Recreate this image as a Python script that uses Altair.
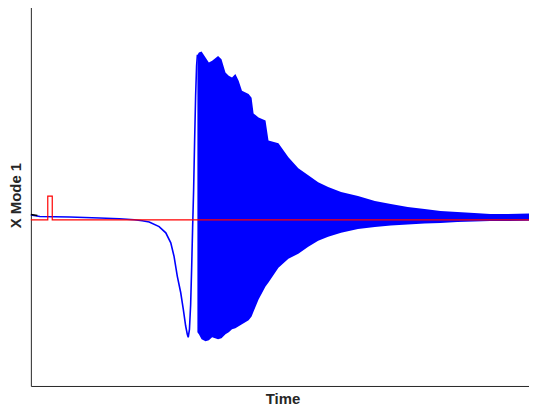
import altair as alt
import pandas as pd

# Blue trace before the oscillation burst (time, value)
pre_t = [0.000, 0.178, 0.771, 1.364, 1.759, 2.055, 2.213, 2.352, 2.549, 2.682, 2.781,
         2.846, 2.911, 2.978, 3.030, 3.077, 3.109, 3.128, 3.152, 3.176, 3.196, 3.215,
         3.235, 3.255, 3.275, 3.294, 3.310]
pre_y = [0.050, 0.035, 0.030, 0.020, 0.012, 0.002, -0.008, -0.020, -0.067, -0.130, -0.230,
         -0.367, -0.567, -0.730, -0.900, -1.067, -1.150, -1.180, -1.100, -0.850, -0.480, -0.080,
         0.300, 0.800, 1.250, 1.550, 1.660]

# Envelope of the dense oscillation (time, upper, lower)
env_t = [3.310, 3.340, 3.393, 3.472, 3.538, 3.603, 3.721, 3.789, 3.868, 3.933, 3.998,
         4.065, 4.130, 4.196, 4.328, 4.387, 4.427, 4.526, 4.664, 4.723, 4.921, 5.119,
         5.316, 5.514, 5.711, 5.909, 6.166, 6.502, 6.838, 7.154, 7.490, 7.826, 8.142,
         8.478, 8.814, 9.130, 9.466, 10.000]
env_hi = [1.660, 1.683, 1.693, 1.633, 1.583, 1.600, 1.650, 1.617, 1.483, 1.450, 1.433,
          1.467, 1.400, 1.300, 1.267, 1.230, 1.070, 1.030, 1.000, 0.800, 0.770, 0.630,
          0.520, 0.450, 0.380, 0.330, 0.280, 0.240, 0.190, 0.160, 0.130, 0.110, 0.090,
          0.080, 0.070, 0.060, 0.060, 0.065]
env_lo = [-1.130, -1.150, -1.200, -1.220, -1.210, -1.180, -1.200, -1.190, -1.150, -1.130, -1.100,
          -1.090, -1.070, -1.050, -1.010, -0.970, -0.920, -0.800, -0.670, -0.630, -0.480, -0.390,
          -0.340, -0.270, -0.210, -0.170, -0.130, -0.090, -0.070, -0.055, -0.045, -0.035, -0.030,
          -0.020, -0.015, -0.010, -0.010, -0.008]

# Red reference signal with a short pulse
red_t = [0.000, 0.336, 0.336, 0.425, 0.425, 10.000]
red_y = [0.000, 0.000, 0.240, 0.240, 0.000, 0.000]

# Short black trace at the very start
blk_t = [0.000, 0.130]
blk_y = [0.055, 0.045]

pre = pd.DataFrame({"t": pre_t, "y": pre_y})
env = pd.DataFrame({"t": env_t, "hi": env_hi, "lo": env_lo})
red = pd.DataFrame({"t": red_t, "y": red_y, "o": list(range(len(red_t)))})
blk = pd.DataFrame({"t": blk_t, "y": blk_y})

xs = alt.Scale(domain=[0, 10], nice=False, zero=False)
ys = alt.Scale(domain=[-1.67, 2.17], nice=False, zero=False)

xax = alt.Axis(title="Time", labels=False, ticks=False, grid=False, domainColor="#262626",
               domainWidth=1, titleFont="Liberation Sans", titleFontSize=15,
               titleFontWeight="bold", titleColor="#262626", titlePadding=6)
yax = alt.Axis(title="X Mode 1", labels=False, ticks=False, grid=False, domainColor="#262626",
               domainWidth=1, titleFont="Liberation Sans", titleFontSize=15,
               titleFontWeight="bold", titleColor="#262626", titlePadding=7)

area = alt.Chart(env).mark_area(color="#0000ff", opacity=1, line=False).encode(
    x=alt.X("t:Q", scale=xs, axis=xax),
    y=alt.Y("hi:Q", scale=ys, axis=yax),
    y2="lo:Q",
)

pre_line = alt.Chart(pre).mark_line(color="#0000ff", strokeWidth=1.6).encode(
    x=alt.X("t:Q", scale=xs),
    y=alt.Y("y:Q", scale=ys),
)

red_line = alt.Chart(red).mark_line(color="#ff0000", strokeWidth=1.2).encode(
    x=alt.X("t:Q", scale=xs),
    y=alt.Y("y:Q", scale=ys),
    order="o:Q",
)

blk_line = alt.Chart(blk).mark_line(color="#000000", strokeWidth=1.6).encode(
    x=alt.X("t:Q", scale=xs),
    y=alt.Y("y:Q", scale=ys),
)

chart = alt.layer(area, pre_line, red_line, blk_line).properties(
    width=506, height=384,
    padding={"left": 1, "top": -5, "right": -8, "bottom": 0},
).configure_view(stroke=None)

chart.save("out.html", embed_options={"renderer": "svg", "actions": False})
